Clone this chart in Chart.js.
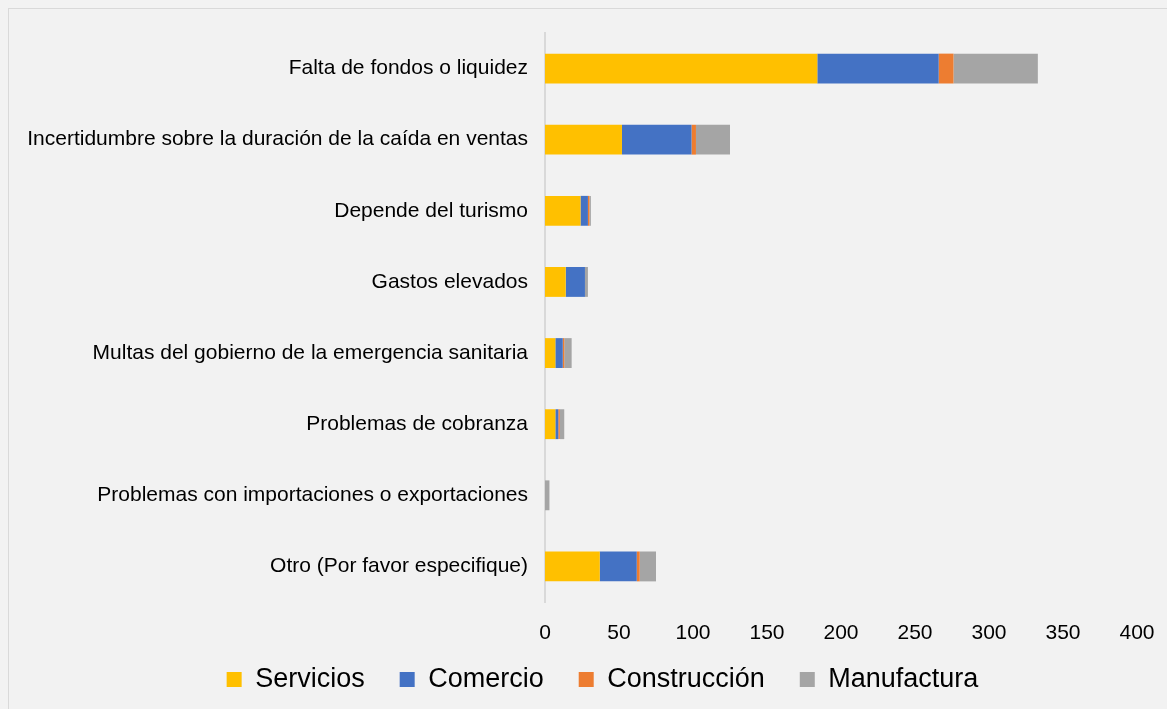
<!DOCTYPE html>
<html>
<head>
<meta charset="utf-8">
<script src="https://cdn.jsdelivr.net/npm/chart.js@4"></script>
<style>
  html, body { margin:0; padding:0; background:#f2f2f2; width:1167px; height:709px; overflow:hidden; }
  #frame { position:absolute; left:8px; top:8px; width:1170px; height:720px; border:1px solid #d9d9d9; box-sizing:border-box; }
  #wrap { position:absolute; left:0; top:0; width:1167px; height:709px; }
</style>
</head>
<body>
<div id="frame"></div>
<div id="wrap"><canvas id="c" width="1167" height="709"></canvas></div>
<script>
const categories = [
  "Falta de fondos o liquidez",
  "Incertidumbre sobre la duración de la caída en ventas",
  "Depende del turismo",
  "Gastos elevados",
  "Multas del gobierno de la emergencia sanitaria",
  "Problemas de cobranza",
  "Problemas con importaciones o exportaciones",
  "Otro (Por favor especifique)"
];
const servicios    = [184, 52, 24, 14, 7, 7, 0, 37];
const comercio     = [82, 47, 5, 13, 5, 2, 0, 25];
const construccion = [10, 3, 1, 0, 1, 1, 0, 2];
const manufactura  = [57, 23, 1, 2, 5, 3, 3, 11];
const seriesNames  = ["Servicios", "Comercio", "Construcción", "Manufactura"];
const xMin = 0, xMax = 400, xStep = 50;

const colors = ["#FFC000", "#4472C4", "#ED7D31", "#A5A5A5"];
const seriesData = [servicios, comercio, construccion, manufactura];
const FONT = 'Liberation Sans, Arial, sans-serif';

// Legend tweak: keep wide horizontal spacing but compact vertical footprint
const legendTweak = {
  id: 'legendTweak',
  beforeUpdate(chart) {
    const lg = chart.legend;
    if (lg && !lg._tweaked) {
      const orig = lg.fit.bind(lg);
      lg.fit = function () { orig(); this.height = 58; };
      lg._tweaked = true;
    }
  },
  afterLayout(chart) {
    const lg = chart.legend;
    if (lg) { lg.top -= 15; lg.bottom -= 15; lg.left += 24; lg.right += 24; }
  }
};

new Chart(document.getElementById('c'), {
  type: 'bar',
  data: {
    labels: categories,
    datasets: seriesNames.map((n, i) => ({
      label: n,
      data: seriesData[i],
      backgroundColor: colors[i],
      borderWidth: 0,
      barPercentage: 0.42,
      categoryPercentage: 1
    }))
  },
  options: {
    indexAxis: 'y',
    responsive: false,
    animation: false,
    layout: { padding: { top: 33, right: 30, bottom: 5, left: 20 } },
    plugins: {
      tooltip: { enabled: false },
      legend: {
        position: 'bottom',
        labels: {
          font: { family: FONT, size: 27 },
          color: '#000',
          boxWidth: 15,
          boxHeight: 15,
          padding: 35
        }
      }
    },
    scales: {
      x: {
        stacked: true,
        min: xMin, max: xMax,
        afterFit: (s) => { s.height = 44; s.paddingRight = 0; s.paddingLeft = 0; },
        ticks: {
          stepSize: xStep,
          font: { family: FONT, size: 21 },
          color: '#000',
          padding: 19
        },
        grid: { display: false, drawTicks: false },
        border: { display: false }
      },
      y: {
        stacked: true,
        afterFit: (s) => { s.width = 525; },
        ticks: {
          font: { family: FONT, size: 21 },
          color: '#000',
          padding: 17
        },
        grid: { display: false, drawTicks: false },
        border: { display: true, color: '#d9d9d9', width: 2 }
      }
    }
  },
  plugins: [legendTweak]
});
</script>
</body>
</html>
